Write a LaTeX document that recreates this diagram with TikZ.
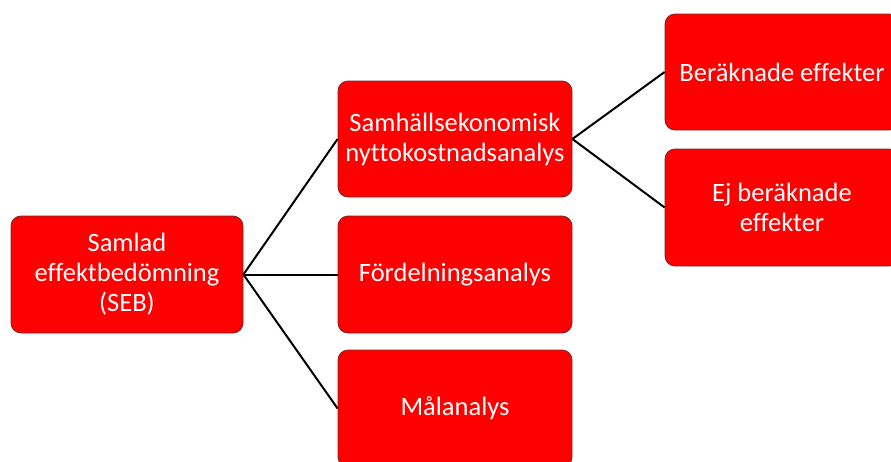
\documentclass[tikz,border=0pt]{standalone}
\usepackage{fontspec}
\setmainfont{Carlito}[Ligatures=NoCommon]
\begin{document}
\begin{tikzpicture}[x=1pt,y=-1pt,
  box/.style={rectangle, rounded corners=10pt, fill={rgb,255:red,255;green,0;blue,0},
    draw={rgb,255:red,120;green,40;blue,40}, line width=0.8pt,
    minimum width=234pt, minimum height=117pt, inner sep=0pt,
    align=center, text=white, font=\fontsize{26.5}{30}\selectfont},
  link/.style={line width=2pt, black}]
\clip (0,0) rectangle (891,461);
\useasboundingbox (0,0) rectangle (891,461);
% tree of the appraisal parts
\node[box, minimum width=232pt] (seb) at (127,274.5) {Samlad\\effektbedömning\\(SEB)};
\node[box, minimum height=116pt] (nka) at (455,139) {Samhällsekonomisk\\nyttokostnadsanalys};
\node[box] (fa) at (455,274.5) {Fördelningsanalys};
\node[box] (ma) at (455,408.5) {Målanalys};
\node[box, minimum height=116pt] (be) at (782,72) {Beräknade effekter};
\node[box] (ej) at (782,207.5) {Ej beräknade\\effekter};
% connectors
\draw[link] (seb.east) -- (nka.west);
\draw[link] (seb.east) -- (fa.west);
\draw[link] (seb.east) -- (ma.west);
\draw[link] (nka.east) -- (be.west);
\draw[link] (nka.east) -- (ej.west);
\end{tikzpicture}
\end{document}
